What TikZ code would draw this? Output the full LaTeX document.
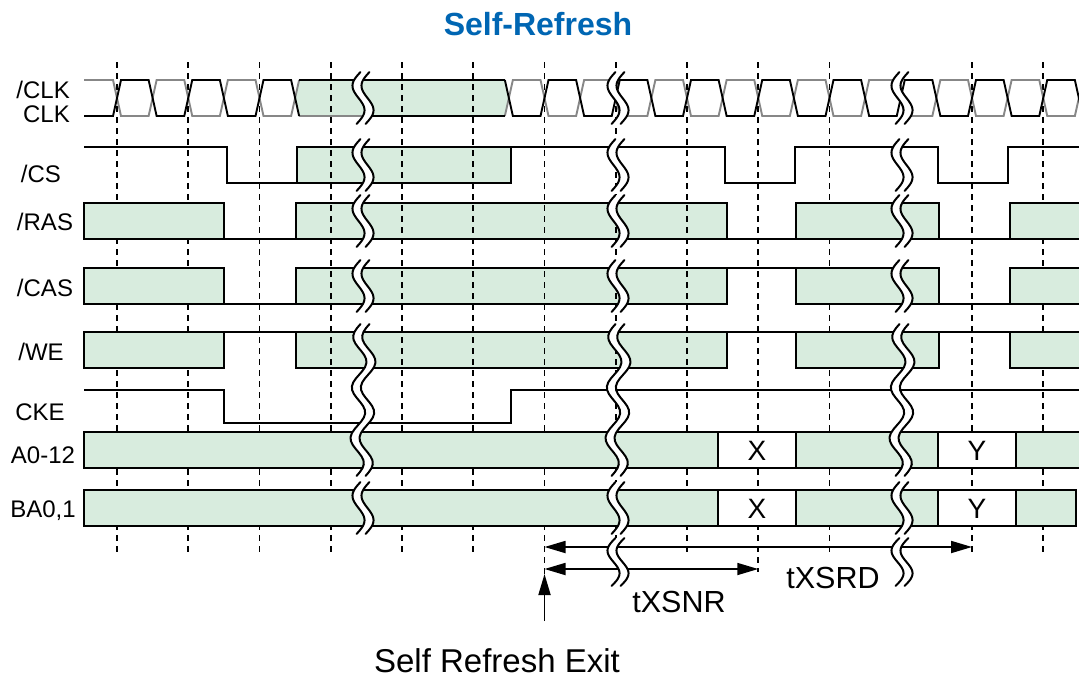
\documentclass[tikz,border=0pt]{standalone}
\usepackage{fontspec}
\setmainfont{Liberation Sans}
\usetikzlibrary{arrows.meta}
\definecolor{busgreen}{RGB}{216,236,222}
\definecolor{clkgray}{RGB}{135,135,135}
\definecolor{titleblue}{RGB}{0,102,179}
\newcommand\brkpiece[3]{%
  \pgfmathsetmacro\brkn{max(1,round((#3-#2)/50))}%
  \fill[white] plot[variable=\brkt,domain=0:1,samples=40] ({#1-4.5-7*sin(360*\brkn*\brkt)+4*(0.5-\brkt)},{#2+(#3-#2)*\brkt}) -- plot[variable=\brkt,domain=1:0,samples=40] ({#1+4.5-7*sin(360*\brkn*\brkt)+4*(0.5-\brkt)},{#2+(#3-#2)*\brkt}) -- cycle;
  \draw[brkline] plot[variable=\brkt,domain=0:1,samples=40] ({#1-4.5-7*sin(360*\brkn*\brkt)+4*(0.5-\brkt)},{#2+(#3-#2)*\brkt});
  \draw[brkline] plot[variable=\brkt,domain=0:1,samples=40] ({#1+4.5-7*sin(360*\brkn*\brkt)+4*(0.5-\brkt)},{#2+(#3-#2)*\brkt});
}
\begin{document}
\begin{tikzpicture}[x=1pt,y=-1pt,
  sig/.style={line width=1.5pt,line join=miter,black},
  clkb/.style={line width=1.9pt,black},
  clkg/.style={line width=1.9pt,clkgray},
  dline/.style={line width=1.7pt,dash pattern=on 6pt off 5pt},
  brkline/.style={line width=2pt,line cap=round},
  lab/.style={font=\fontsize{24}{28}\selectfont,anchor=base,inner sep=0pt},
  big/.style={font=\fontsize{30.5}{36}\selectfont,anchor=base,inner sep=0pt},
  xy/.style={font=\fontsize{28}{32}\selectfont,anchor=base,inner sep=0pt},
  arr/.style={line width=1.8pt},
]
\useasboundingbox (0,0) rectangle (1079,678);
\fill[white] (0,0) rectangle (1079,678);

% boxes lying under the grid
\fill[busgreen] (295.1,98) -- (299.1,80) -- (504.9,80) -- (508.9,98) -- (504.9,116) -- (299.1,116) -- cycle;
\fill[busgreen] (297,147) rectangle (511,183);
\fill[busgreen] (296,203) rectangle (727,239);
\fill[busgreen] (296,268) rectangle (727,304);
\fill[busgreen] (296,332) rectangle (727,368);

% grid
\foreach \k/\e in {0/552,1/552,2/552,3/552,4/552,5/552,6/576,7/552,8/552,9/572,10/552,12/552,13/552}
  \draw[dline] ({117+71.25*\k},62) -- ({117+71.25*\k},\e);

% boxes over the grid
\foreach \yt/\yb in {203/239,268/304,332/368}{
  \filldraw[sig,fill=busgreen] (84,\yt) rectangle (224,\yb);
  \filldraw[sig,fill=busgreen] (796,\yt) rectangle (939,\yb);
  \fill[busgreen] (1010,\yt) rectangle (1082,\yb);
  \draw[sig] (1082,\yt) -- (1010,\yt) -- (1010,\yb) -- (1082,\yb);
}
\foreach \yt/\yb in {432/468,490/526}{
  \filldraw[sig,fill=busgreen] (84,\yt) rectangle (718,\yb);
  \filldraw[sig,fill=white] (718,\yt) rectangle (796,\yb);
  \filldraw[sig,fill=busgreen] (796,\yt) rectangle (938,\yb);
  \filldraw[sig,fill=white] (938,\yt) rectangle (1016,\yb);
}
\fill[busgreen] (1016,432) rectangle (1082,468);
\draw[sig] (1082,432) -- (1016,432) -- (1016,468) -- (1082,468);
\filldraw[sig,fill=busgreen] (1016,490) rectangle (1076,526);

% clock
\draw[clkg] (84,80) \foreach \k in {0,...,5}{ -- ({117+35.625*\k-4},{ifthenelse(mod(\k,2)==0,80,116)}) -- ({117+35.625*\k+4},{ifthenelse(mod(\k,2)==0,116,80)}) };
\draw[clkg] ({117+35.625*11-4},116) -- ({117+35.625*11+4},80) \foreach \k in {12,...,27}{ -- ({117+35.625*\k-4},{ifthenelse(mod(\k,2)==0,80,116)}) -- ({117+35.625*\k+4},{ifthenelse(mod(\k,2)==0,116,80)}) };
\draw[clkg] (299.1,116) -- (363,116);
\draw[clkb] (84,116) \foreach \k in {0,...,5}{ -- ({117+35.625*\k-4},{ifthenelse(mod(\k,2)==0,116,80)}) -- ({117+35.625*\k+4},{ifthenelse(mod(\k,2)==0,80,116)}) };
\draw[clkb] ({117+35.625*11-4},80) -- ({117+35.625*11+4},116) \foreach \k in {12,...,27}{ -- ({117+35.625*\k-4},{ifthenelse(mod(\k,2)==0,116,80)}) -- ({117+35.625*\k+4},{ifthenelse(mod(\k,2)==0,80,116)}) };
\draw[clkb] (299.1,80) -- (504.9,80);
\draw[clkb] (363,116) -- (504.9,116);

% /CS
\draw[sig] (84,147) -- (227,147) -- (227,183) -- (297,183);
\draw[sig] (297,147) rectangle (511,183);
\draw[sig] (503,147) -- (725,147) -- (725,183) -- (795,183) -- (795,147) -- (938,147) -- (938,183) -- (1008,183) -- (1008,147) -- (1082,147);
% /RAS
\draw[sig] (224,239) -- (296,239);
\draw[sig] (296,203) rectangle (727,239);
\draw[sig] (727,239) -- (796,239);
\draw[sig] (939,239) -- (1010,239);
% /CAS
\draw[sig] (224,304) -- (296,304);
\draw[sig] (296,268) rectangle (727,304);
\draw[sig] (727,268) -- (796,268);
\draw[sig] (939,304) -- (1010,304);
% /WE
\draw[sig] (224,332) -- (296,332);
\draw[sig] (296,332) rectangle (727,368);
\draw[sig] (727,332) -- (796,332);
\draw[sig] (939,332) -- (1010,332);
% CKE
\draw[sig] (84,390) -- (224,390) -- (224,423) -- (511,423) -- (511,390) -- (1082,390);

% X / Y
\node[xy] (xa) at (757,460) {X};
\node[xy] (ya) at (977,460) {Y};
\node[xy] (xb) at (757,518) {X};
\node[xy] (yb) at (977,518) {Y};

% timing arrows
\coordinate (srdL) at (544.5,547);
\coordinate (srdR) at (972,547);
\coordinate (snrL) at (544.5,569);
\coordinate (snrR) at (758.25,569);
\coordinate (exitB) at (544.5,621);
\coordinate (exitT) at (544.5,574);
\draw[arr,{Triangle[length=21pt,width=12pt]}-{Triangle[length=21pt,width=12pt]}] (srdL) -- (srdR);
\draw[arr,{Triangle[length=21pt,width=12pt]}-{Triangle[length=21pt,width=12pt]}] (snrL) -- (snrR);
\draw[arr,-{Triangle[length=21pt,width=12pt]}] (exitB) -- (exitT);

% breaks
\foreach \bx in {363,618,902}{
  \brkpiece{\bx}{72}{124}
  \brkpiece{\bx}{139}{191}
  \brkpiece{\bx}{195}{247}
  \brkpiece{\bx}{260}{312}
  \brkpiece{\bx}{324}{476}
  \brkpiece{\bx}{482}{534}
}
\brkpiece{618}{538}{586}
\brkpiece{902}{538}{586}

% labels
\node[font=\bfseries\fontsize{32}{38}\selectfont,text=titleblue,anchor=base,inner sep=0pt] (title) at (538,35.5) {Self-Refresh};
\node[lab,anchor=base east] (lclkn) at (70,98.6) {/CLK};
\node[lab,anchor=base east] (lclk) at (70,122.6) {CLK};
\node[lab] (lcs) at (41,182.6) {/CS};
\node[lab] (lras) at (45,230.6) {/RAS};
\node[lab] (lcas) at (45,296.6) {/CAS};
\node[lab] (lwe) at (41,360.6) {/WE};
\node[lab] (lcke) at (40,420) {CKE};
\node[lab] (la) at (43,463) {A0-12};
\node[lab] (lba) at (43,517) {BA0,1};
\node[big] (tsrd) at (833,588) {tXSRD};
\node[big] (tsnr) at (679,612) {tXSNR};
\node[big,font=\fontsize{33}{38}\selectfont] (exit) at (497,672) {Self Refresh Exit};
\end{tikzpicture}
\end{document}
